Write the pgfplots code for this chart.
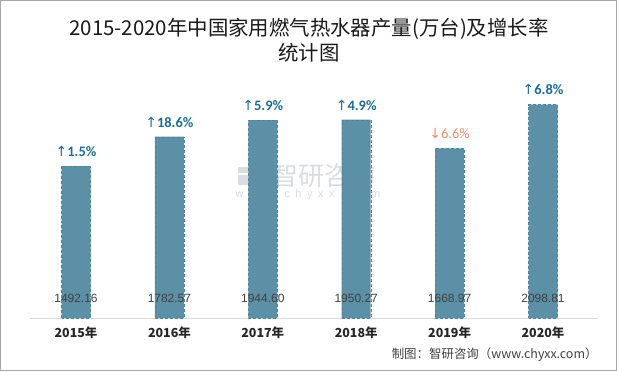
\documentclass[border=0pt]{standalone}
\usepackage{pgfplots}
\pgfplotsset{compat=1.18}
\usepackage{fontspec}
\setmainfont{Liberation Sans}
\newfontfamily\cjk{Noto Sans CJK SC}
\newfontfamily\carl{Carlito}
\newfontfamily\dvs{DejaVu Sans}
\definecolor{barc}{HTML}{5B90A7}
\definecolor{upc}{HTML}{1B6C97}
\definecolor{downc}{HTML}{F08C6C}
\definecolor{txt}{HTML}{404040}
\definecolor{wm}{HTML}{D9DDE2}
\newcommand\up[1]{\textcolor{upc}{{\dvs\fontsize{14}{14}\selectfont ↑}{\carl\bfseries\fontsize{14.5}{15}\selectfont #1}}}
\newcommand\down[1]{\textcolor{downc}{{\dvs\fontsize{14}{14}\selectfont ↓}{\carl\fontsize{14.5}{15}\selectfont #1}}}
\newcommand\g{\hspace{5.5bp}}
\begin{document}
\begin{tikzpicture}[x=1bp,y=1bp]
\useasboundingbox (0,0) rectangle (617,371);
\draw[color=gray!70, line width=1.2bp] (0.6,0.6) rectangle (616.4,370.4);
\node[align=center, text=black!90, font=\cjk\fontsize{20.5}{25}\selectfont] at (309,330.5) {2015-2020年中国家用燃气热水器产量(万台)及增长率\\统计图};
% watermark
\fill[wm] (238,186) rectangle (248,196);
\fill[wm!80!blue] (250,186) rectangle (260,204);
\fill[wm] (238,198) rectangle (248,204);
\node[text=wm, inner sep=0pt, font=\cjk\fontsize{26}{26}\selectfont] at (324,195) {智研咨询};
\node[text=wm, inner sep=0pt, font=\fontsize{11}{11}\selectfont] at (308,176) {w\g w\g w\g .\g c\g h\g y\g x\g x\g .\g c\g o\g m};
\begin{axis}[
  at={(30bp,53bp)}, anchor=south west,
  width=568bp, height=239bp, scale only axis,
  xmin=-0.4925, xmax=5.589, ymin=0, ymax=2350,
  axis y line=none,
  axis x line*=bottom,
  x axis line style={draw=gray!30, line width=1bp, -},
  xtick=data,
  xticklabels={2015年,2016年,2017年,2018年,2019年,2020年},
  major tick length=0,
  xticklabel style={anchor=center, yshift=-15bp, text=black!85, font=\cjk\bfseries\fontsize{12.5}{13}\selectfont},
  clip=false,
]
\addplot[ybar, bar width=29bp, fill=barc, draw=barc!92!black, densely dashed, line width=0.3bp,
  point meta=explicit symbolic,
  nodes near coords,
  every node near coord/.append style={anchor=south, yshift=6bp, solid}]
coordinates {
  (0,1492.16) [\up{1.5\%}]
  (1,1782.57) [\up{18.6\%}]
  (2,1944.60) [\up{5.9\%}]
  (3,1950.27) [\up{4.9\%}]
  (4,1668.97) [\down{6.6\%}]
  (5,2098.81) [\up{6.8\%}]
};
\addplot[draw=none, mark=none, point meta=explicit symbolic,
  nodes near coords,
  every node near coord/.append style={anchor=center, text=txt, font=\fontsize{12}{12}\selectfont}]
coordinates {
  (0,197) [1492.16]
  (1,197) [1782.57]
  (2,197) [1944.60]
  (3,197) [1950.27]
  (4,197) [1668.97]
  (5,197) [2098.81]
};
\end{axis}
\node[anchor=east, text=txt, font=\cjk\fontsize{12.5}{12.5}\selectfont] at (601,16) {制图：智研咨询（www.chyxx.com）};
\end{tikzpicture}
\end{document}
